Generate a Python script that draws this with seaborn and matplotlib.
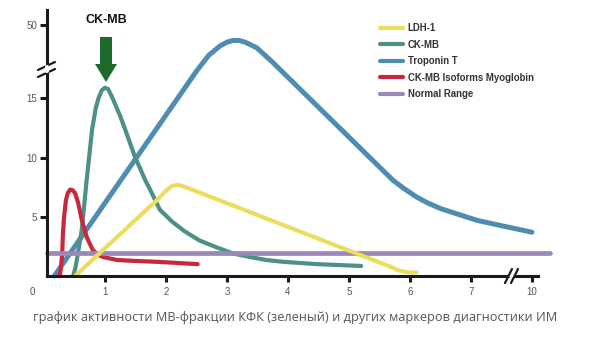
import numpy as np
import pandas as pd
import matplotlib
matplotlib.use("Agg")
import matplotlib.pyplot as plt
from matplotlib.lines import Line2D
from matplotlib.patches import Polygon
import seaborn as sns

# ---- data (days after onset vs. relative marker level) ----
troponin_x = [0.17, 2.5, 2.56, 2.7, 2.89, 3.0, 3.1, 3.2, 3.3, 3.49, 3.75, 5.72,
              5.9, 6.1, 6.28, 6.5, 6.8, 7.3, 8.77, 10.0]
troponin_y = [0.0, 17.3, 20.0, 28.0, 35.0, 37.6, 38.9, 38.9, 37.6, 33.5, 23.0, 8.1,
              7.4, 6.7, 6.2, 5.7, 5.2, 4.7, 4.15, 3.7]

ckmb_x = [0.48, 0.52, 0.56, 0.62, 0.70, 0.79, 0.85, 0.90, 0.95, 1.0, 1.05, 1.10,
          1.16, 1.25, 1.33, 1.49, 1.66, 1.74, 1.9, 2.1, 2.3, 2.55, 2.84, 3.1,
          3.38, 3.65, 3.92, 4.48, 5.2]
ckmb_y = [0.0, 0.8, 2.0, 3.9, 8.1, 12.4, 14.2, 15.1, 15.7, 15.9, 15.8, 15.3,
          14.6, 13.5, 12.4, 10.1, 8.1, 7.3, 5.6, 4.6, 3.8, 3.0, 2.4, 1.9,
          1.6, 1.35, 1.2, 1.0, 0.85]

myo_x = [0.26, 0.28, 0.30, 0.31, 0.33, 0.36, 0.39, 0.43, 0.47, 0.51, 0.56, 0.62,
         0.70, 0.80, 0.88, 0.97, 1.2, 1.5, 1.85, 2.2, 2.52]
myo_y = [0.0, 0.8, 1.95, 3.5, 5.0, 6.4, 7.0, 7.3, 7.25, 7.0, 6.2, 4.75,
         3.3, 2.2, 1.8, 1.6, 1.35, 1.27, 1.2, 1.1, 1.0]

ldh_x = [0.51, 1.2, 1.85, 2.0, 2.1, 2.2, 2.3, 2.45, 5.6, 5.72, 5.8, 5.9, 6.0, 6.11]
ldh_y = [0.0, 3.3, 6.4, 7.2, 7.6, 7.7, 7.55, 7.25, 0.95, 0.7, 0.5, 0.37, 0.3, 0.3]

normal_x = [0.05, 10.9]
normal_y = [1.95, 1.95]

x_ticks = [1, 2, 3, 4, 5, 6, 7, 10]
y_ticks = [5, 10, 15, 50]

labels = ["LDH-1", "CK-MB", "Troponin T", "CK-MB Isoforms Myoglobin", "Normal Range"]
colors = {"LDH-1": "#ecdd5e", "CK-MB": "#4d9088", "Troponin T": "#4f8cb2",
          "CK-MB Isoforms Myoglobin": "#c8283d", "Normal Range": "#9a88b8"}
caption = "график активности МВ-фракции КФК (зеленый) и других маркеров диагностики ИМ"

# ---- broken scales ----
YB, YK = 17.4, 0.1163   # y above YB is compressed
XB, XK = 7.0, 1.0 / 3   # x above XB is compressed


def fy(v):
    v = np.asarray(v, dtype=float)
    return np.where(v <= YB, v, YB + (v - YB) * YK)


def fy_inv(d):
    d = np.asarray(d, dtype=float)
    return np.where(d <= YB, d, YB + (d - YB) / YK)


def fx(v):
    v = np.asarray(v, dtype=float)
    return np.where(v <= XB, v, XB + (v - XB) * XK)


def fx_inv(d):
    d = np.asarray(d, dtype=float)
    return np.where(d <= XB, d, XB + (d - XB) / XK)


sns.set_theme(style="white")
plt.rcParams["font.family"] = ["Liberation Sans", "DejaVu Sans"]

W, H = 600, 339
fig = plt.figure(figsize=(W / 100, H / 100), dpi=100)
ax = fig.add_axes([47 / W, (H - 276) / H, (538 - 47) / W, (276 - 10) / H])
ax.set_xscale("function", functions=(fx, fx_inv))
ax.set_yscale("function", functions=(fy, fy_inv))


def draw(xs, ys, name, lw):
    df = pd.DataFrame({"x": xs, "y": ys})
    sns.lineplot(data=df, x="x", y="y", ax=ax, color=colors[name], lw=lw,
                 sort=False, estimator=None, label=name,
                 solid_capstyle="round", solid_joinstyle="round")
    ax.lines[-1].set_clip_on(False)


draw(troponin_x, troponin_y, "Troponin T", 3.6)
draw(ckmb_x, ckmb_y, "CK-MB", 3.0)
draw(myo_x, myo_y, "CK-MB Isoforms Myoglobin", 3.0)
draw(normal_x, normal_y, "Normal Range", 3.4)
draw(ldh_x, ldh_y, "LDH-1", 3.0)

ax.set_xlim(0.05, 10.3)
ax.set_ylim(0, 61)
ax.set_xlabel("")
ax.set_ylabel("")

for s in ["top", "right"]:
    ax.spines[s].set_visible(False)
for s in ["left", "bottom"]:
    ax.spines[s].set_color("#1a1a1a")
    ax.spines[s].set_linewidth(2.2)

ax.set_xticks(x_ticks)
ax.set_xticklabels([str(t) for t in x_ticks])
ax.set_yticks(y_ticks)
ax.set_yticklabels([str(t) for t in y_ticks])
ax.tick_params(axis="x", direction="out", length=4, width=2.2, color="#1a1a1a",
               labelsize=7, labelcolor="#555555", pad=4, bottom=True)
ax.tick_params(axis="y", direction="out", length=5, width=2.2, color="#1a1a1a",
               labelsize=7, labelcolor="#555555", pad=2, left=True)
ax.grid(False)

# legend in the listed order
handles, lbls = ax.get_legend_handles_labels()
hmap = dict(zip(lbls, handles))
leg = ax.legend([hmap[l] for l in labels], labels, loc="upper left",
                bbox_to_anchor=(380 / W, (H - 23) / H), bbox_transform=fig.transFigure,
                frameon=False, fontsize=6.9, handlelength=2.45, handletextpad=0.42,
                labelspacing=0.68, borderpad=0, borderaxespad=0)
for t in leg.get_texts():
    t.set_fontweight("bold")
    t.set_color("#333333")
for h in leg.get_lines():
    h.set_linewidth(3.0)


def px(x, y):
    return (x / 100, (H - y) / 100)


tr = fig.dpi_scale_trans

# origin label
fig.text(*px(32, 292), "0", transform=tr, ha="center", va="center",
         fontsize=7, color="#555555")

# axis break marks
for (x0, y0, x1, y1) in [(38, 70, 55, 62), (38, 77, 55, 69)]:
    fig.add_artist(Line2D([px(x0, y0)[0], px(x1, y1)[0]], [px(x0, y0)[1], px(x1, y1)[1]],
                          transform=tr, color="#1a1a1a", lw=1.6))
fig.add_artist(Line2D([px(47, 67)[0], px(47, 71)[0]], [px(47, 67)[1], px(47, 71)[1]],
                      transform=tr, color="white", lw=3))
fig.add_artist(Line2D([px(511, 276)[0], px(513, 276)[0]], [px(511, 276)[1], px(513, 276)[1]],
                      transform=tr, color="white", lw=3))
for (x0, y0, x1, y1) in [(505, 283, 512, 269), (511, 283, 518, 269)]:
    fig.add_artist(Line2D([px(x0, y0)[0], px(x1, y1)[0]], [px(x0, y0)[1], px(x1, y1)[1]],
                          transform=tr, color="#1a1a1a", lw=1.6))

# CK-MB arrow and label
arrow_pts = [px(100, 37), px(112, 37), px(112, 64), px(117, 64), px(106, 82),
             px(95, 64), px(100, 64)]
fig.add_artist(Polygon(arrow_pts, closed=True, transform=tr,
                       facecolor="#1e6a2d", edgecolor="none"))
fig.text(*px(106, 20), "CK-MB", transform=tr, ha="center", va="center",
         fontsize=9, fontweight="bold", color="#111111")

# caption
fig.text(*px(295, 318), caption, transform=tr, ha="center", va="center",
         fontsize=9.2, color="#555555", family=["Open Sans", "DejaVu Sans"])

fig.savefig("out.png", dpi=100)
